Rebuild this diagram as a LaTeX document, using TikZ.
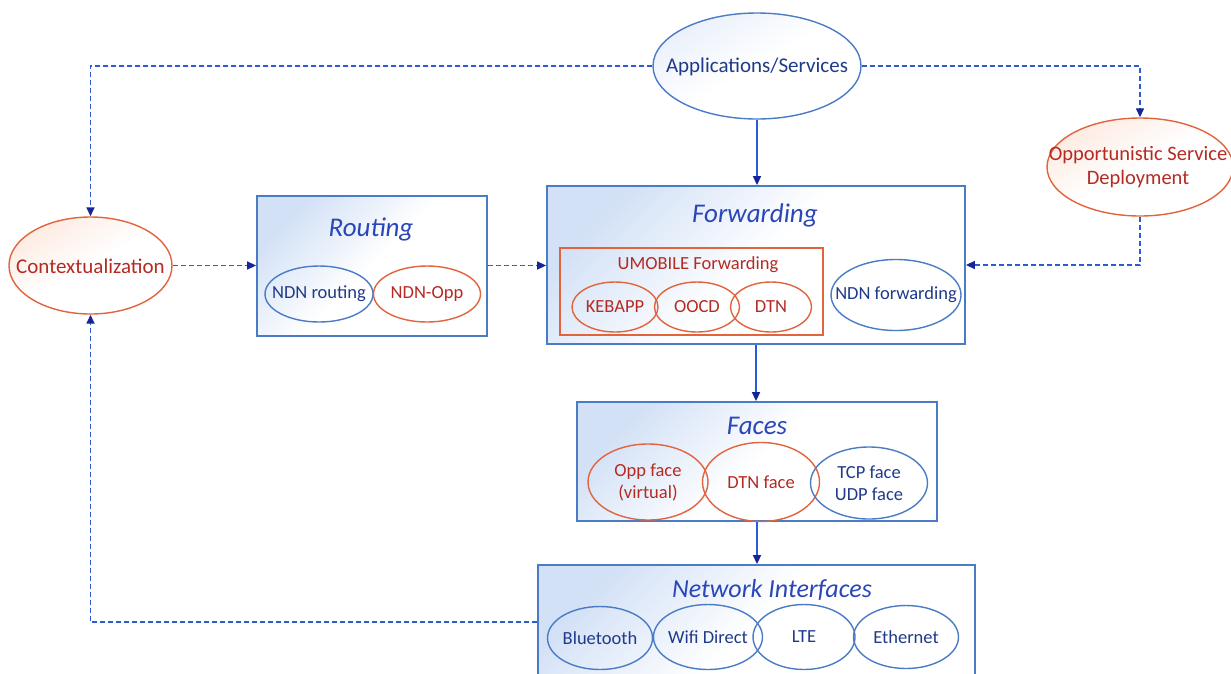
\documentclass[tikz,border=0pt]{standalone}
\usepackage{fontspec}
\setmainfont{Carlito}
\usetikzlibrary{shapes.geometric,arrows.meta}
\definecolor{boxc}{HTML}{4A7CC6}
\definecolor{shadec}{HTML}{D3E1F6}
\definecolor{orc}{HTML}{E2643C}
\definecolor{orshade}{HTML}{FDEBE2}
\definecolor{ellshade}{HTML}{EAF0FB}
\definecolor{bluetxt}{HTML}{1F3A8A}
\definecolor{redtxt}{HTML}{B52A22}
\definecolor{titlec}{HTML}{2A46B8}
\definecolor{linec}{HTML}{2B5BD6}
\definecolor{tipc}{HTML}{14249A}
\tikzset{
  layerbox/.style={rectangle, draw=boxc, line width=1.8pt, inner sep=0pt,
    top color=shadec, bottom color=white, middle color=white, shading angle=45},
  umobbox/.style={rectangle, draw=orc, line width=1.8pt, inner sep=0pt},
  bell/.style={ellipse, draw=boxc, line width=1.4pt, inner sep=0pt},
  oell/.style={ellipse, draw=orc, line width=1.4pt, inner sep=0pt},
  bigb/.style={bell, top color=ellshade, bottom color=white, middle color=white, shading angle=30},
  bigo/.style={oell, top color=orshade, bottom color=white, middle color=white, shading angle=30},
  btxt/.style={font=\fontsize{18.5}{22}\selectfont, align=center, text=bluetxt, inner sep=0pt},
  otxt/.style={font=\fontsize{18.5}{22}\selectfont, align=center, text=redtxt, inner sep=0pt},
  ttl/.style={font=\fontsize{27}{30}\selectfont\itshape, text=titlec},
  tipstyle/.tip={Triangle[length=9pt,width=8pt,color=tipc]},
  dline/.style={draw=linec, line width=1.5pt, dash pattern=on 5pt off 3pt, -tipstyle},
  sline/.style={draw=linec, line width=1.5pt, -tipstyle},
}
\begin{document}
\begin{tikzpicture}[x=1pt,y=-1pt]
\clip (0,0) rectangle (1231,673);
\fill[white] (0,0) rectangle (1231,673);

% layer boxes
\node[layerbox, minimum width=230pt, minimum height=140pt] (rout) at (372,266) {};
\node[layerbox, minimum width=418pt, minimum height=158pt] (fwd) at (756,265) {};
\node[layerbox, minimum width=360pt, minimum height=119pt] (faces) at (757,461.5) {};
\node[layerbox, minimum width=437pt, minimum height=114pt] (net) at (756.5,622) {};

% titles
\node[ttl] (routt) at (371,229) {Routing};
\node[ttl] (fwdt) at (755,215) {Forwarding};
\node[ttl] (facest) at (757,426) {Faces};
\node[ttl, font=\fontsize{26}{30}\selectfont\itshape] (nett) at (772,590) {Network Interfaces};

% standalone ellipses
\node[bigb, minimum width=208pt, minimum height=106pt] (app) at (757,66) {};
\node[btxt, font=\fontsize{21}{24}\selectfont] (appt) at (757,67) {Applications/Services};
\node[bigo, minimum width=163pt, minimum height=97pt] (ctx) at (90.5,265.5) {};
\node[otxt, font=\fontsize{21}{24}\selectfont] (ctxt) at (90.5,266.5) {Contextualization};
\node[bigo, minimum width=186pt, minimum height=98pt] (osd) at (1140,167) {};
\node[otxt, font=\fontsize{20.5}{24}\selectfont] (osdt) at (1138,167) {Opportunistic Service\\Deployment};

% routing
\node[bell, minimum width=108pt, minimum height=56pt] (ndnr) at (319,294) {};
\node[btxt] (ndnrt) at (ndnr) {NDN routing};
\node[oell, minimum width=107pt, minimum height=56pt] (ndnopp) at (427,294) {};
\node[otxt] (ndnoppt) at (ndnopp) {NDN-Opp};

% forwarding
\node[umobbox, minimum width=263pt, minimum height=87pt] (umob) at (691.5,291.5) {};
\node[otxt] (umobt) at (698,265) {UMOBILE Forwarding};
\node[oell, minimum width=86pt, minimum height=50pt] (keb) at (615,307) {};
\node[otxt] (kebt) at (keb) {KEBAPP};
\node[oell, minimum width=85pt, minimum height=50pt] (oocd) at (697,307) {};
\node[otxt] (oocdt) at (oocd) {OOCD};
\node[oell, minimum width=81pt, minimum height=50pt] (dtn) at (771,307) {};
\node[otxt] (dtnt) at (dtn) {DTN};
\node[bell, minimum width=130pt, minimum height=71pt] (ndnf) at (896,295) {};
\node[btxt] (ndnft) at (ndnf) {NDN forwarding};

% faces
\node[oell, minimum width=120pt, minimum height=76pt] (opp) at (648,482) {};
\node[otxt] (oppt) at (opp) {Opp face\\(virtual)};
\node[oell, minimum width=117pt, minimum height=79pt] (dtnf) at (761,482) {};
\node[otxt] (dtnft) at (dtnf) {DTN face};
\node[bell, minimum width=117pt, minimum height=72pt] (tcp) at (869,483) {};
\node[btxt] (tcpt) at (tcp) {TCP face\\UDP face};

% network interfaces
\node[bell, minimum width=105pt, minimum height=63pt] (bt) at (600,638) {};
\node[btxt] (btt) at (bt) {Bluetooth};
\node[bell, minimum width=109pt, minimum height=65pt] (wifi) at (708,637) {};
\node[btxt] (wifit) at (wifi) {Wifi Direct};
\node[bell, minimum width=102pt, minimum height=65pt] (lte) at (804,637) {};
\node[btxt] (ltet) at (lte) {LTE};
\node[bell, minimum width=105pt, minimum height=63pt] (eth) at (906,637) {};
\node[btxt] (etht) at (eth) {Ethernet};

% connectors
\draw[dline] (app.west) -| (ctx.north);
\draw[dline] (app.east) -| (osd.north);
\draw[sline] (app.south) -- (app.south |- fwd.north);
\draw[dline] (ctx.east) -- (ctx.east -| rout.west);
\draw[dline] (rout.east |- ctx.east) -- (fwd.west |- ctx.east);
\draw[dline] (osd.south) |- (fwd.east);
\draw[sline] (fwd.south) -- (fwd.south |- faces.north);
\draw[sline] (faces.south) -- (faces.south |- net.north);
\draw[dline] (net.west) -| (ctx.south);
\end{tikzpicture}
\end{document}
